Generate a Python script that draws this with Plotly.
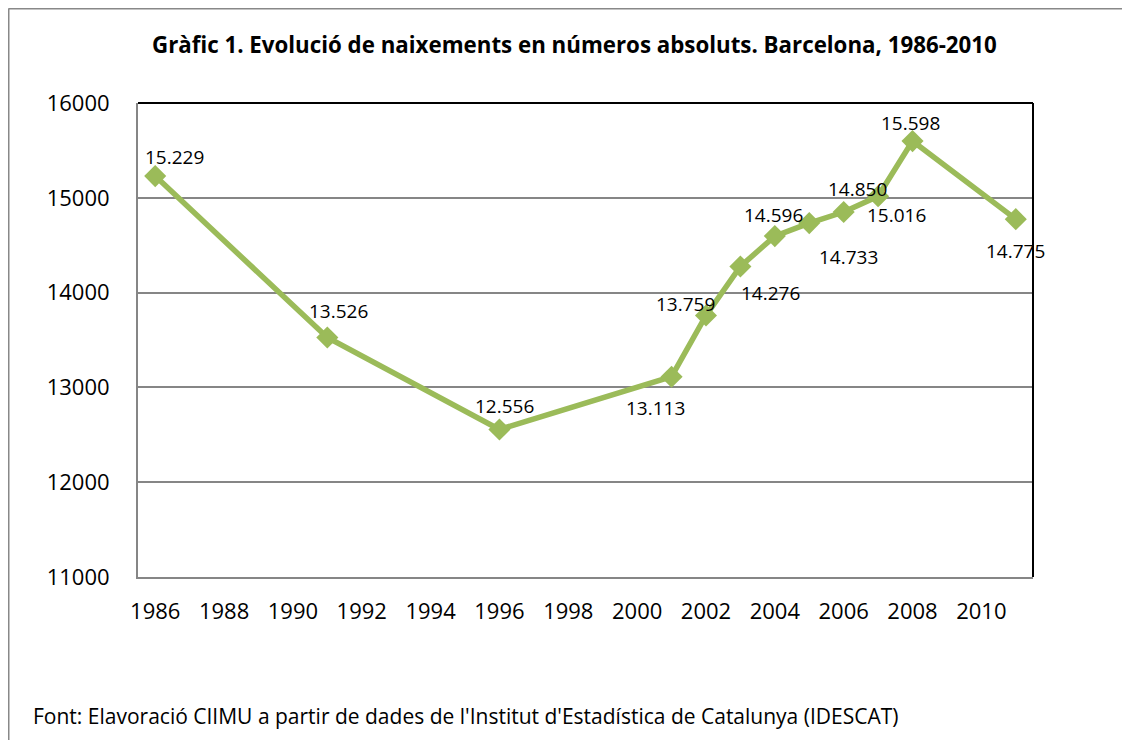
import plotly.graph_objects as go

years = [1986, 1991, 1996, 2001, 2002, 2003, 2004, 2005, 2006, 2007, 2008, 2011]
births = [15229, 13526, 12556, 13113, 13759, 14276, 14596, 14733, 14850, 15016, 15598, 14775]
x_ticks = list(range(1986, 2011, 2))
y_ticks = [11000, 12000, 13000, 14000, 15000, 16000]

title_text = "Gràfic 1. Evolució de naixements en números absoluts. Barcelona, 1986-2010"
source_text = "Font: Elavoració CIIMU a partir de dades de l'Institut d'Estadística de Catalunya (IDESCAT)"

# label offsets (pixels) relative to each point
label_dx = [19, 11, 5, -16, -20, 30, -1, 39, 14, 18, -2, 0]
label_dy = [19, 27, 23, -31, 11, -27, 21, -34, 23, -19, 18, -32]

OFF = 8  # page body margin
W, H = 1130 - OFF, 740 - OFF
L, R, T, B = 138 - OFF, 1033 - OFF, 103 - OFF, 577 - OFF
PW, PH = R - L, B - T

def px(x):
    return (x - OFF - L) / PW

def py(y):
    return (B - (y - OFF)) / PH

GREEN = "#9BBB59"
FONT = "Open Sans"

fig = go.Figure()
fig.add_trace(go.Scatter(
    x=years, y=births, mode="lines+markers",
    line=dict(color=GREEN, width=5.5),
    marker=dict(symbol="diamond", size=17, color=GREEN),
    hoverinfo="x+y", showlegend=False, cliponaxis=False,
))

annotations = []
for x, y, dx, dy in zip(years, births, label_dx, label_dy):
    annotations.append(dict(
        x=x, y=y, xref="x", yref="y", text=f"{y:,}".replace(",", "."),
        showarrow=False, xshift=dx, yshift=dy,
        font=dict(family=FONT, size=19, color="#000"),
    ))
annotations.append(dict(
    x=px(574.5), y=py(45), xref="paper", yref="paper", text=f"<b>{title_text}</b>",
    showarrow=False, xanchor="center", yanchor="middle",
    font=dict(family=FONT, size=22.3, color="#000"),
))
annotations.append(dict(
    x=px(31), y=py(716), xref="paper", yref="paper", text=source_text,
    showarrow=False, xanchor="left", yanchor="middle",
    font=dict(family=FONT, size=21, color="#000"),
))

shapes = [
    # plot area border (top & right black)
    dict(type="line", xref="paper", yref="paper", x0=0, x1=1, y0=1, y1=1,
         line=dict(color="#000", width=2)),
    dict(type="line", xref="paper", yref="paper", x0=1, x1=1, y0=0, y1=1,
         line=dict(color="#000", width=2)),
    # outer chart border (top & left)
    dict(type="line", xref="paper", yref="paper", x0=px(8.5), x1=px(1131), y0=py(8.5), y1=py(8.5),
         line=dict(color="#888", width=2)),
    dict(type="line", xref="paper", yref="paper", x0=px(8.5), x1=px(8.5), y0=py(8.5), y1=py(741),
         line=dict(color="#888", width=2)),
]

fig.update_layout(
    width=W, height=H,
    margin=dict(l=L, r=W - R, t=T, b=H - B),
    paper_bgcolor="white", plot_bgcolor="white",
    showlegend=False,
    annotations=annotations, shapes=shapes,
    xaxis=dict(
        range=[1985.5, 2011.5], tickmode="array", tickvals=x_ticks,
        ticktext=[str(t) for t in x_ticks], showgrid=False, zeroline=False,
        showline=True, linecolor="#868686", linewidth=2,
        ticks="", ticklabelstandoff=14,
        tickfont=dict(family=FONT, size=22, color="#000"),
    ),
    yaxis=dict(
        range=[11000, 16000], tickmode="array", tickvals=y_ticks,
        ticktext=[str(t) for t in y_ticks], showgrid=True, gridcolor="#868686",
        gridwidth=1.5, zeroline=False,
        showline=True, linecolor="#868686", linewidth=2,
        ticks="", ticklabelstandoff=22,
        tickfont=dict(family=FONT, size=22, color="#000"),
    ),
)

fig.write_html("out.html")
